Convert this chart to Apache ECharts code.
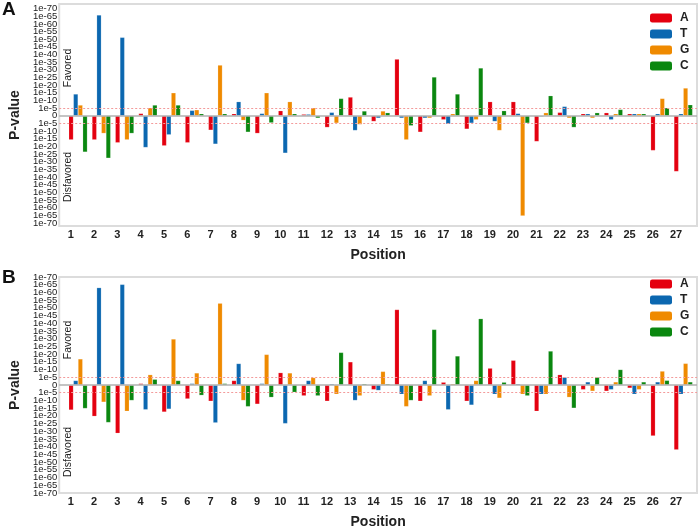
<!DOCTYPE html>
<html>
<head>
<meta charset="utf-8">
<script src="https://cdn.jsdelivr.net/npm/echarts@6/dist/echarts.min.js"></script>
<style>
  html, body { margin: 0; padding: 0; background: #fff; }
  #chart { width: 700px; height: 530px; }
</style>
</head>
<body>
<div id="chart"></div>
<script>
// positions along the sequence
const positions = [1, 2, 3, 4, 5, 6, 7, 8, 9, 10, 11, 12, 13, 14, 15, 16, 17, 18, 19, 20, 21, 22, 23, 24, 25, 26, 27]
const bases = ['A', 'T', 'G', 'C']
const baseColors = ['#e4000f', '#0b67b0', '#ef8a00', '#0a870f']

// signed -log10(p): positive = favored, negative = disfavored
// panel A
const panelA_A = [-15.7, -15.7, -17.6, 1.5, -19.6, -17.6, -9.4, 1.3, -11.5, 3.3, 1.0, -7.6, 12.2, -3.7, 37.0, -10.7, -2.6, -8.7, 9.2, 9.2, -16.8, 2.2, 1.3, 2.0, 1.3, -22.7, -36.4]
const panelA_T = [14.2, 65.8, 51.2, -20.7, -12.4, 3.5, -18.5, 9.2, 1.5, -24.4, 1.0, 2.2, -9.6, -1.5, -1.5, -1.5, -5.4, -4.8, -3.7, 1.5, -0.6, 6.1, 1.3, -2.6, 1.3, 1.3, 1.3]
const panelA_G = [7.0, -11.5, -15.7, 5.2, 15.0, 3.9, 33.1, -3.0, 15.0, 9.2, 5.2, -4.8, -5.7, 3.1, -15.7, -1.5, 1.3, -2.6, -9.6, -65.4, 2.0, -1.5, -1.5, 1.3, 1.3, 11.3, 18.1]
const panelA_C = [-23.7, -27.7, -11.5, 7.0, 7.0, 1.3, 1.3, -10.7, -4.6, 1.3, -1.5, 11.3, 3.1, 2.0, -6.5, 25.3, 14.2, 31.2, 3.3, -4.8, 13.1, -7.6, 2.0, 4.1, 1.3, 5.2, 7.2]

// panel B
const panelB_A = [-16.2, -20.3, -31.3, 1.0, -17.5, -9.0, -10.5, 2.9, -12.4, 8.0, -7.0, -10.5, 15.0, -3.0, 48.9, -10.5, 1.8, -10.5, 10.9, 16.0, -17.0, 6.7, -3.0, -4.0, -2.0, -33.0, -42.0]
const panelB_T = [2.9, 63.1, 65.2, -16.0, -15.6, 1.0, -24.5, 13.9, 1.0, -25.0, 2.9, 0.8, -10.0, -3.5, -6.0, 2.9, -16.0, -13.0, -6.0, 0.8, -6.0, 5.0, 2.0, -3.0, -6.0, 2.0, -6.0]
const panelB_G = [16.9, -11.1, -17.0, 6.7, 29.8, 7.8, 53.0, -10.0, 19.8, 7.8, 4.8, -6.0, -7.0, 8.8, -14.0, -7.0, 0.8, 2.9, -8.5, -6.0, -6.0, -8.0, -4.0, 2.0, -3.0, 9.0, 14.0]
const panelB_C = [-15.2, -24.3, -10.0, 3.7, 2.9, -6.7, 1.0, -14.0, -8.0, -4.7, -7.0, 21.1, 0.8, 0.8, -10.0, 36.0, 18.8, 43.0, 1.8, -7.0, 22.0, -15.0, 5.0, 10.0, 2.0, 3.0, 2.0]

// y tick values (shown as 1e-N on both sides of zero), split in two sets so
// the tightly packed labels are not thinned out
const yTicksTens = [-70, -60, -50, -40, -30, -20, -10, 0, 10, 20, 30, 40, 50, 60, 70]
const yTicksFives = [-65, -55, -45, -35, -25, -15, -5, 5, 15, 25, 35, 45, 55, 65]
const thresholdLines = [5, -5]

const panels = [
  { name: 'A', values: [panelA_A, panelA_T, panelA_G, panelA_C], top: 4, height: 222, yMin: -72, yMax: 73, legendTop: 12 },
  { name: 'B', values: [panelB_A, panelB_T, panelB_G, panelB_C], top: 277, height: 221, yMin: -70, yMax: 70, legendTop: 278 },
]

const fontFamily = 'Liberation Sans, Arial, sans-serif'
const labelOffset = 0.31   // tick labels sit a little left of the bar group centre

const chart = echarts.init(document.getElementById('chart'), null, { renderer: 'canvas' })

const grid = []
const xAxis = []
const yAxis = []
const legend = []
const series = []
const graphic = []

function makeYAxis(k, p, ticks, withName) {
  return {
    gridIndex: k,
    type: 'value',
    position: 'left',
    min: p.yMin,
    max: p.yMax,
    name: withName ? 'P-value' : '',
    nameLocation: 'middle',
    nameGap: 33,
    nameTextStyle: { fontFamily: fontFamily, fontSize: 14, fontWeight: 'bold', color: '#222' },
    axisLine: { show: false },
    axisTick: { show: false },
    splitLine: { show: false },
    axisLabel: {
      customValues: ticks,
      formatter: v => (v === 0 ? '0' : '1e-' + Math.abs(v)),
      showMinLabel: true,
      showMaxLabel: true,
      hideOverlap: false,
      margin: 2,
      fontFamily: fontFamily,
      fontSize: 9.5,
      color: '#1a1a1a'
    }
  }
}

panels.forEach(function (p, k) {
  grid.push({
    left: 57, right: 3, top: p.top, height: p.height,
    show: true, borderColor: '#dcdcdc', borderWidth: 2, backgroundColor: 'transparent'
  })
  xAxis.push({
    gridIndex: k,
    type: 'value',
    min: 0.19,
    max: 27.59,
    name: 'Position',
    nameLocation: 'middle',
    nameGap: 22,
    nameTextStyle: { fontFamily: fontFamily, fontSize: 14, fontWeight: 'bold', color: '#222' },
    axisLine: { show: false },
    axisTick: { show: false },
    splitLine: { show: false },
    axisLabel: {
      customValues: positions.map(v => v - labelOffset),
      formatter: v => String(Math.round(v)),
      margin: 3,
      fontFamily: fontFamily,
      fontSize: 11,
      fontWeight: 'bold',
      color: '#222'
    }
  })
  yAxis.push(makeYAxis(k, p, yTicksTens, true))
  yAxis.push(makeYAxis(k, p, yTicksFives, false))
  legend.push({
    data: bases.map(b => p.name + b),
    formatter: n => n.slice(1),
    orient: 'vertical',
    left: 650,
    top: p.legendTop,
    padding: 0,
    itemWidth: 22,
    itemHeight: 9,
    itemGap: 4,
    itemStyle: { borderWidth: 0 },
    textStyle: { fontFamily: fontFamily, fontSize: 12, fontWeight: 'bold', color: '#222', padding: [0, 0, 0, 3] }
  })
  bases.forEach(function (b, j) {
    const s = {
      name: p.name + b,
      type: 'bar',
      xAxisIndex: k,
      yAxisIndex: 2 * k,
      barWidth: '20%',
      barGap: '0%',
      data: positions.map((x, i) => [x, p.values[j][i]]),
      itemStyle: { color: baseColors[j], borderColor: 'rgba(255,255,255,0.35)', borderWidth: 0.5 },
      silent: true,
      animation: false
    }
    if (j === 0) {
      s.markLine = {
        silent: true,
        symbol: 'none',
        label: { show: false },
        data: [
          { yAxis: 0, lineStyle: { color: '#b0b0b0', width: 1.5, type: 'solid' } },
          { yAxis: thresholdLines[0], lineStyle: { color: '#f39a9a', width: 1, type: [2, 2] } },
          { yAxis: thresholdLines[1], lineStyle: { color: '#f39a9a', width: 1, type: [2, 2] } }
        ]
      }
    }
    series.push(s)
  })
})

// panel letters and the favored / disfavored side notes
const notes = [
  { text: 'Favored', y: 68 }, { text: 'Disfavored', y: 177 },
  { text: 'Favored', y: 340 }, { text: 'Disfavored', y: 452 }
]
notes.forEach(function (n) {
  graphic.push({
    type: 'text', x: 68, y: n.y, rotation: Math.PI / 2,
    style: { text: n.text, fontFamily: fontFamily, fontSize: 10.5, fill: '#222', textAlign: 'center', textVerticalAlign: 'middle' }
  })
})
graphic.push({ type: 'text', left: 2, top: 0, style: { text: 'A', fontFamily: fontFamily, fontSize: 19, fontWeight: 'bold', fill: '#111' } })
graphic.push({ type: 'text', left: 2, top: 268, style: { text: 'B', fontFamily: fontFamily, fontSize: 19, fontWeight: 'bold', fill: '#111' } })

chart.setOption({
  animation: false,
  backgroundColor: '#fff',
  grid: grid,
  xAxis: xAxis,
  yAxis: yAxis,
  legend: legend,
  series: series,
  graphic: graphic
})
</script>
</body>
</html>
